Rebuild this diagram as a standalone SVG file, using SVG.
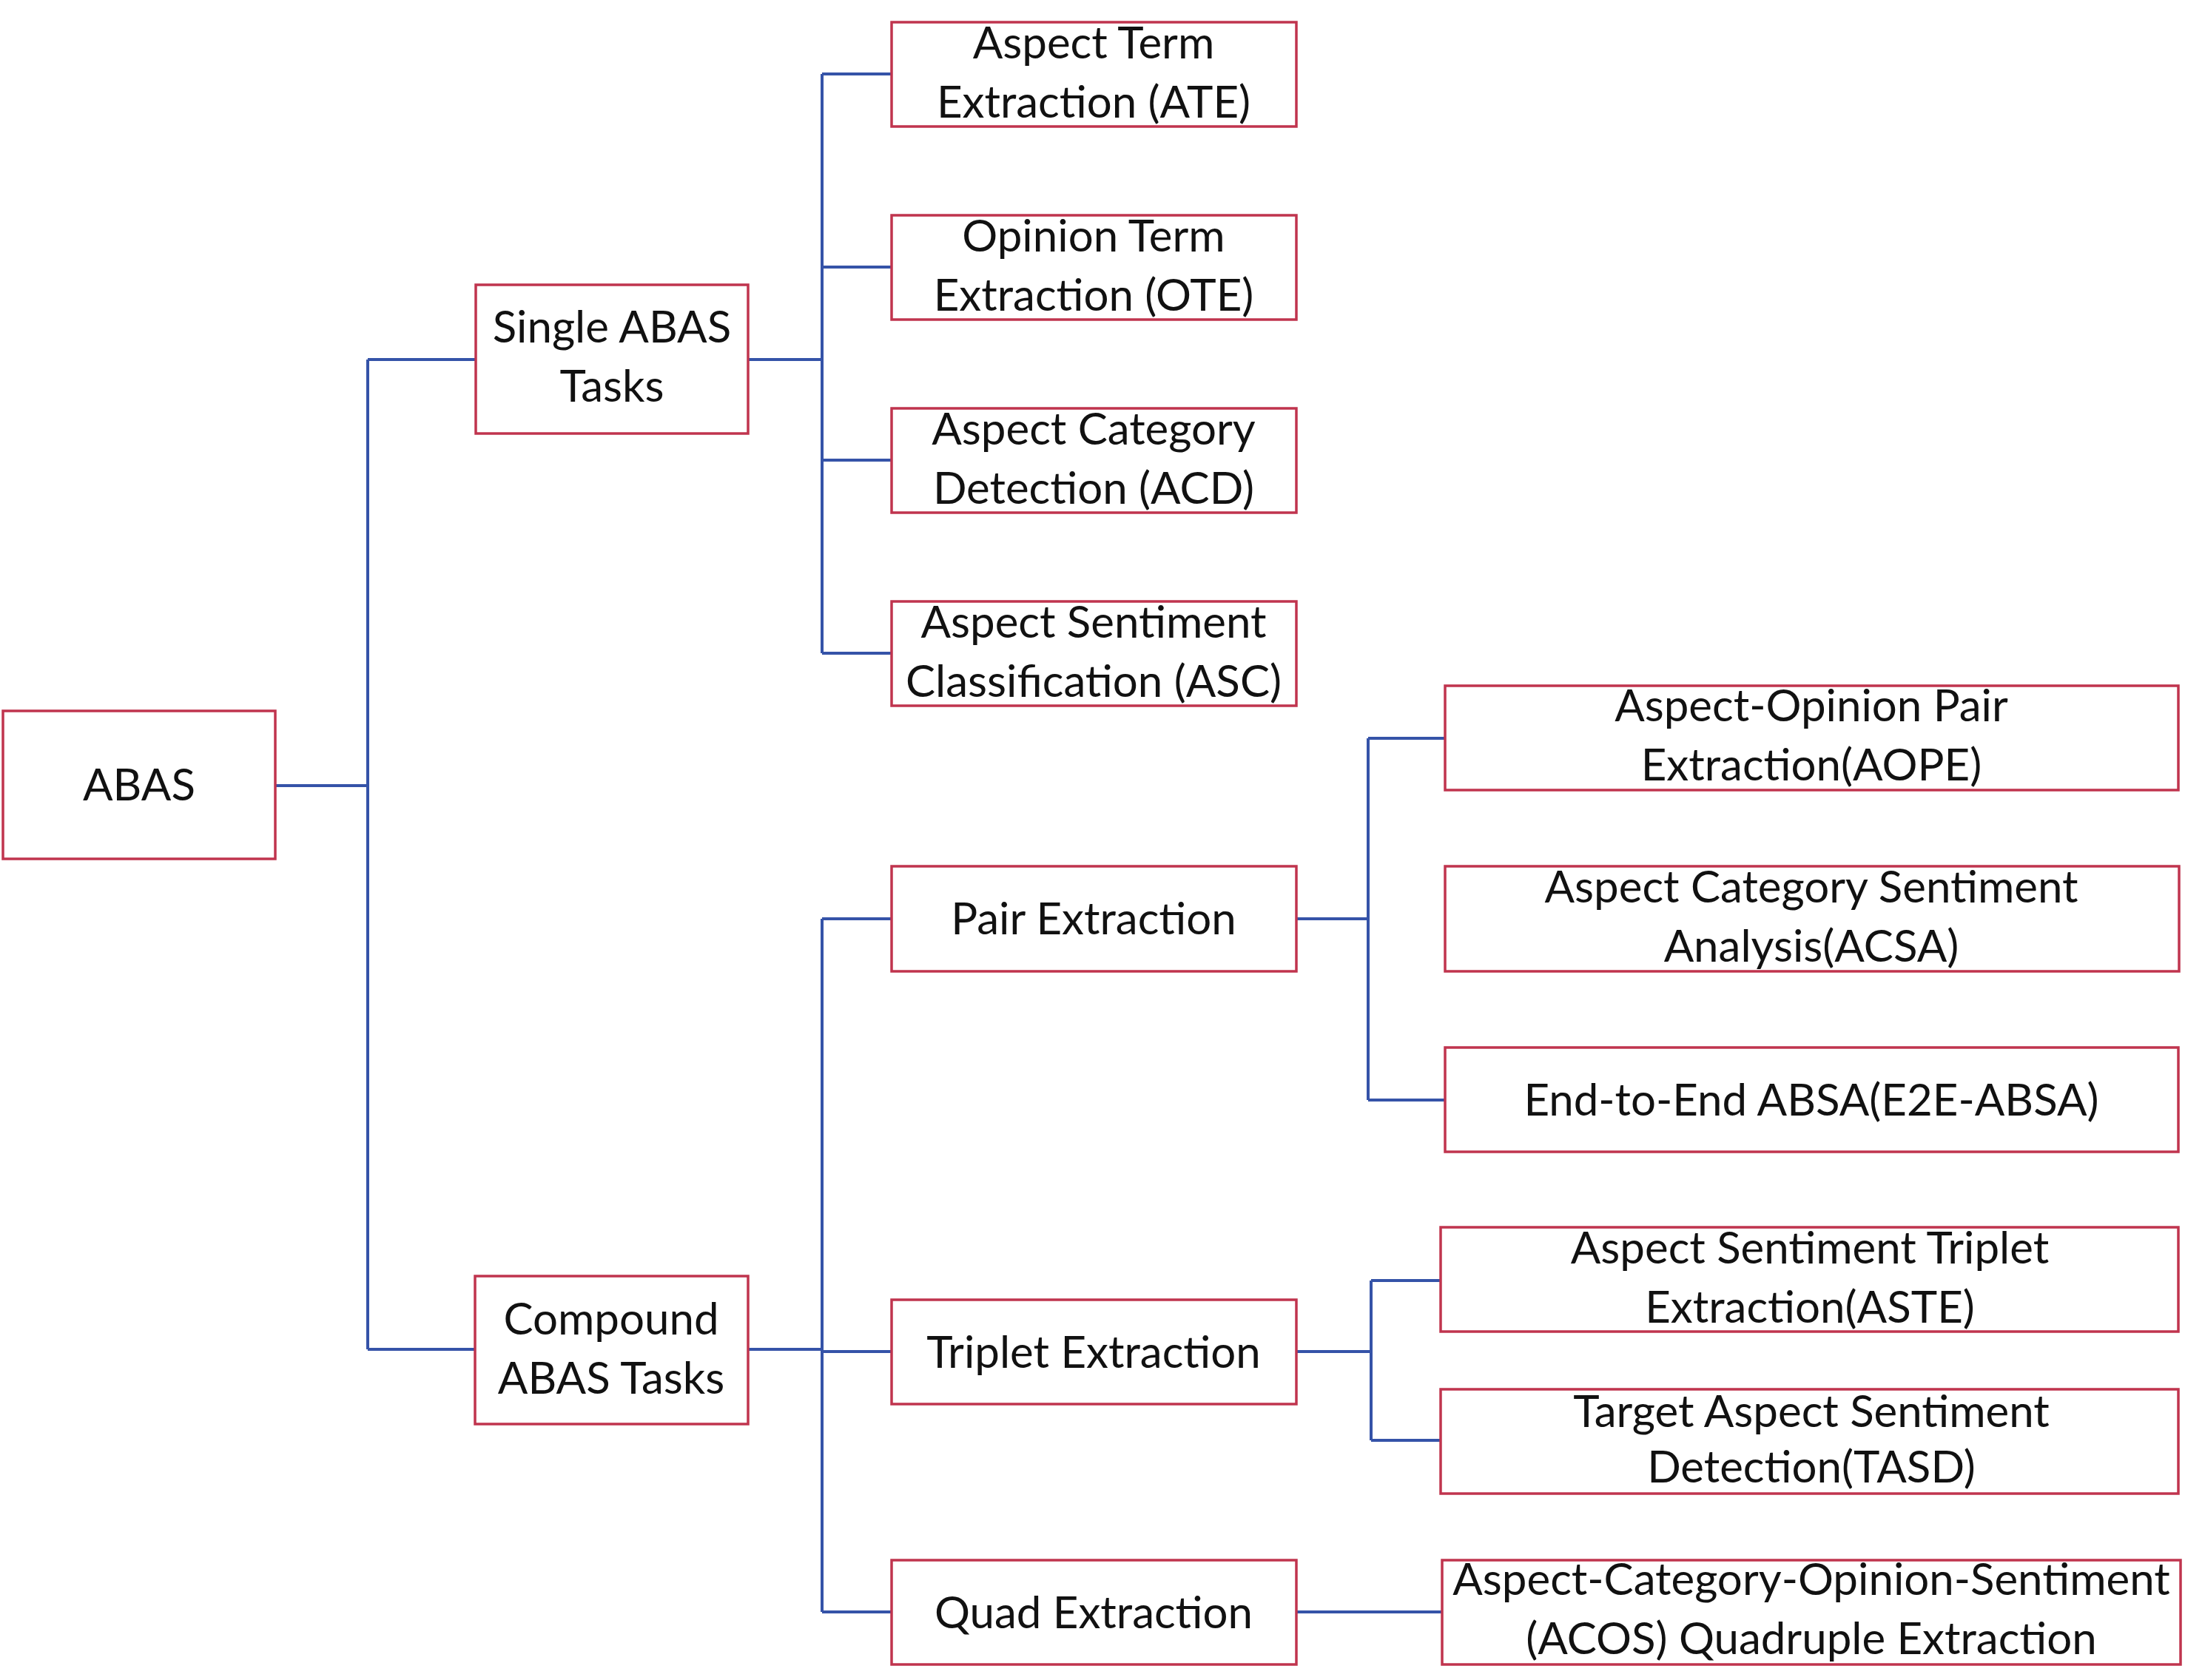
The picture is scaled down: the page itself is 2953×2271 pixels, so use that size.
<svg xmlns="http://www.w3.org/2000/svg" width="2953" height="2271" viewBox="0 0 2953 2271">
<style>
.box{fill:#fff;stroke:#C0344E;stroke-width:3.5}
.t{font-family:Lato,"Open Sans","Liberation Sans",sans-serif;font-size:60px;fill:#111;text-anchor:middle}
.c{fill:none;stroke:#3553A8;stroke-width:4}
</style>
<rect width="2953" height="2271" fill="#fff"/>
<g id="connectors">
<path class="c" d="M372,1062H497M497,486V1824M497,486H643M497,1824H642"/>
<path class="c" d="M1011,486H1111M1111,100V883M1111,100H1205M1111,361H1205M1111,622H1205M1111,883H1205"/>
<path class="c" d="M1011,1824H1111M1111,1242V2179M1111,1242H1205M1111,1827H1205M1111,2179H1205"/>
<path class="c" d="M1752,1242H1849M1849,998V1487M1849,998H1953M1849,1487H1953"/>
<path class="c" d="M1752,1827H1853M1853,1731V1947M1853,1731H1947M1853,1947H1947"/>
<path class="c" d="M1752,2179H1949"/>
</g>
<g id="abas"><rect class="box" x="4" y="961" width="368" height="200"/><text class="t" x="188" y="1082">ABAS</text></g>
<g id="single"><rect class="box" x="643" y="385" width="368" height="201"/><text class="t" x="827" y="463">Single ABAS</text><text class="t" x="827" y="543">Tasks</text></g>
<g id="compound"><rect class="box" x="642" y="1725" width="369" height="200"/><text class="t" x="826" y="1804">Compound</text><text class="t" x="826" y="1884">ABAS Tasks</text></g>
<g id="ate"><rect class="box" x="1205" y="30" width="547" height="141"/><text class="t" x="1478" y="79">Aspect Term</text><text class="t" x="1478" y="159">Extraction (ATE)</text></g>
<g id="ote"><rect class="box" x="1205" y="291" width="547" height="141"/><text class="t" x="1478" y="340">Opinion Term</text><text class="t" x="1478" y="420">Extraction (OTE)</text></g>
<g id="acd"><rect class="box" x="1205" y="552" width="547" height="141"/><text class="t" x="1478" y="601">Aspect Category</text><text class="t" x="1478" y="681">Detection (ACD)</text></g>
<g id="asc"><rect class="box" x="1205" y="813" width="547" height="141"/><text class="t" x="1478" y="862">Aspect Sentiment</text><text class="t" x="1478" y="942">Classification (ASC)</text></g>
<g id="pair"><rect class="box" x="1205" y="1171" width="547" height="142"/><text class="t" x="1478" y="1263">Pair Extraction</text></g>
<g id="triplet"><rect class="box" x="1205" y="1757" width="547" height="141"/><text class="t" x="1478" y="1849">Triplet Extraction</text></g>
<g id="quad"><rect class="box" x="1205" y="2109" width="547" height="141"/><text class="t" x="1478" y="2201">Quad Extraction</text></g>
<g id="aope"><rect class="box" x="1953" y="927" width="991" height="141"/><text class="t" x="2448" y="975">Aspect-Opinion Pair</text><text class="t" x="2448" y="1055">Extraction(AOPE)</text></g>
<g id="acsa"><rect class="box" x="1953" y="1171" width="992" height="142"/><text class="t" x="2448" y="1220">Aspect Category Sentiment</text><text class="t" x="2448" y="1300">Analysis(ACSA)</text></g>
<g id="e2e"><rect class="box" x="1953" y="1416" width="991" height="141"/><text class="t" x="2448" y="1508">End-to-End ABSA(E2E-ABSA)</text></g>
<g id="aste"><rect class="box" x="1947" y="1659" width="997" height="141"/><text class="t" x="2446" y="1708">Aspect Sentiment Triplet</text><text class="t" x="2446" y="1788">Extraction(ASTE)</text></g>
<g id="tasd"><rect class="box" x="1947" y="1878" width="997" height="141"/><text class="t" x="2448" y="1929">Target Aspect Sentiment</text><text class="t" x="2448" y="2004">Detection(TASD)</text></g>
<g id="acos"><rect class="box" x="1949" y="2109" width="998" height="141"/><text class="t" x="2448" y="2156">Aspect-Category-Opinion-Sentiment</text><text class="t" x="2448" y="2236">(ACOS) Quadruple Extraction</text></g>
</svg>
